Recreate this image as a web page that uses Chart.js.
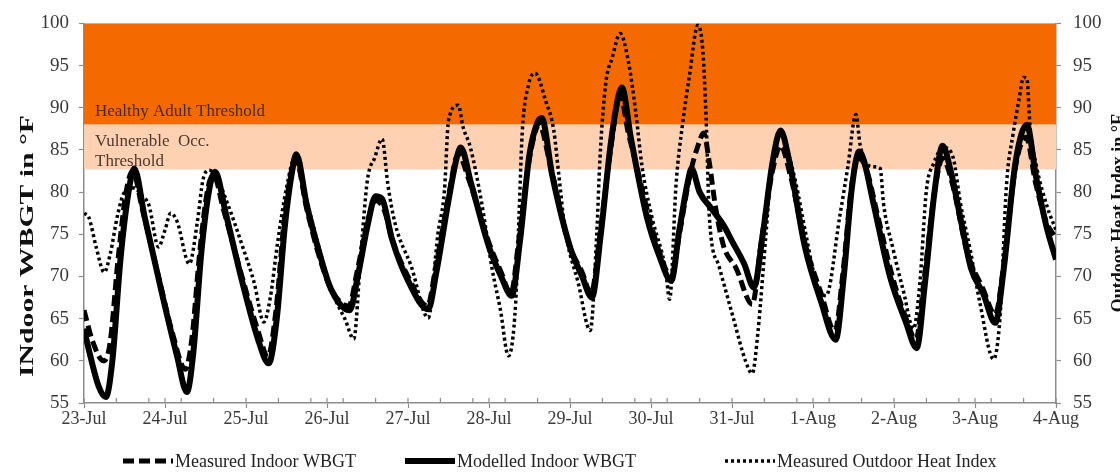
<!DOCTYPE html>
<html>
<head>
<meta charset="utf-8">
<title>Indoor WBGT and Outdoor Heat Index</title>
<script src="https://cdn.jsdelivr.net/npm/chart.js@4.4.1/dist/chart.umd.min.js"></script>
<style>
  html, body { margin: 0; padding: 0; background: #fff; }
  #wrap { width: 1120px; height: 472px; }
</style>
</head>
<body>
<div id="wrap"><canvas id="chart" width="1120" height="472"></canvas></div>
<script>
// x axis: days since 23-Jul, one label per day
const dayLabels = ["23-Jul", "24-Jul", "25-Jul", "26-Jul", "27-Jul", "28-Jul", "29-Jul",
  "30-Jul", "31-Jul", "1-Aug", "2-Aug", "3-Aug", "4-Aug"]

// Measured indoor WBGT (dashed)
const measuredDays = [0, 0.1, 0.24, 0.32, 0.42, 0.52, 0.6, 0.72, 0.92, 1.1, 1.25, 1.33, 1.43, 1.53, 1.6, 1.72, 1.95,
  2.15, 2.27, 2.37, 2.47, 2.56, 2.61, 2.75, 2.9, 3.05, 3.27, 3.37, 3.5, 3.6, 3.7, 3.82, 4.0, 4.24, 4.34, 4.5, 4.62, 4.75,
  5.0, 5.15, 5.27, 5.37, 5.5, 5.62, 5.75, 5.98, 6.15, 6.26, 6.37, 6.5, 6.62, 6.72, 6.8, 6.95, 7.1, 7.25, 7.35, 7.48,
  7.58, 7.65, 7.72, 7.8, 7.9, 8.05, 8.25, 8.36, 8.5, 8.6, 8.72, 8.9, 9.1, 9.27, 9.37, 9.48, 9.56, 9.65, 9.78, 9.98,
  10.15, 10.27, 10.37, 10.5, 10.6, 10.72, 10.9, 11.1, 11.25, 11.35, 11.5, 11.63, 11.75, 11.88, 12.0]
const measuredWbgt = [66.0, 62.5, 60.0, 62.0, 72.0, 80.0, 82.5, 78.0, 70.0, 63.0, 59.0, 62.5, 73.0, 80.5, 82.0, 78.0, 70.0,
  63.5, 60.5, 66.0, 76.5, 82.5, 84.0, 78.0, 72.5, 68.5, 66.5, 70.5, 76.5, 79.0, 78.0, 74.0, 70.0, 66.5, 71.0, 79.5, 84.5, 81.5,
  74.0, 70.5, 68.0, 74.5, 84.0, 88.0, 83.5, 74.0, 70.5, 68.0, 75.0, 85.0, 91.5, 87.0, 84.0, 78.0, 73.0, 70.0, 75.0, 82.0,
  85.5, 87.0, 83.5, 78.0, 73.5, 71.0, 66.7, 74.0, 82.5, 85.5, 82.0, 74.0, 68.0, 63.5, 70.5, 81.0, 84.0, 83.0, 78.0, 70.0,
  65.0, 62.5, 69.5, 80.0, 84.0, 81.0, 73.0, 68.5, 65.5, 71.0, 83.0, 86.5, 81.0, 76.5, 74.5]

// Modelled indoor WBGT (solid)
const modelledDays = [0, 0.08, 0.18, 0.27, 0.35, 0.45, 0.55, 0.62, 0.75, 0.95, 1.15, 1.27, 1.35, 1.45, 1.55, 1.62, 1.75, 1.95,
  2.15, 2.28, 2.38, 2.48, 2.57, 2.62, 2.75, 2.9, 3.05, 3.28, 3.38, 3.5, 3.6, 3.68, 3.8, 4.0, 4.25, 4.35, 4.5, 4.6, 4.65, 4.78,
  5.0, 5.15, 5.28, 5.38, 5.5, 5.6, 5.65, 5.78, 6.0, 6.15, 6.27, 6.38, 6.5, 6.6, 6.64, 6.75, 6.95, 7.1, 7.25, 7.35, 7.45, 7.5,
  7.6, 7.75, 7.9, 8.0, 8.15, 8.27, 8.38, 8.5, 8.6, 8.7, 8.9, 9.1, 9.28, 9.38, 9.48, 9.57, 9.62, 9.75, 9.95, 10.15, 10.28,
  10.38, 10.5, 10.6, 10.7, 10.85, 10.95, 11.1, 11.25, 11.35, 11.5, 11.64, 11.75, 11.88, 12.0]
const modelledWbgt = [63.8, 60.5, 57.0, 55.7, 60.0, 72.0, 80.0, 82.8, 77.0, 68.5, 60.5, 56.3, 61.0, 73.0, 80.5, 82.4, 77.5, 69.5,
  62.5, 59.7, 65.0, 76.0, 82.5, 84.5, 78.5, 73.0, 68.5, 66.0, 70.0, 76.0, 79.5, 79.2, 74.5, 69.5, 66.1, 70.5, 79.0, 84.0, 85.3, 81.0,
  73.5, 70.0, 67.7, 74.0, 84.5, 88.3, 88.8, 82.0, 73.5, 70.0, 67.5, 75.0, 85.5, 91.5, 92.4, 86.5, 77.0, 72.5, 69.5, 75.5, 81.0, 82.8,
  80.0, 78.0, 76.0, 74.2, 71.5, 68.7, 75.0, 83.5, 87.3, 84.0, 73.5, 67.0, 62.5, 70.0, 80.5, 84.8, 84.0, 78.5, 70.0, 64.5, 61.5,
  69.0, 80.0, 85.5, 82.5, 75.5, 71.0, 68.0, 64.5, 70.5, 83.5, 88.0, 82.0, 76.0, 72.0]

// Measured outdoor heat index (dotted, right axis)
const outdoorDays = [0, 0.06, 0.15, 0.25, 0.32, 0.42, 0.5, 0.62, 0.72, 0.8, 0.92, 1.0, 1.07, 1.15, 1.3, 1.4, 1.47, 1.55, 1.65,
  1.77, 1.97, 2.1, 2.22, 2.3, 2.39, 2.5, 2.6, 2.72, 2.9, 3.05, 3.14, 3.22, 3.33, 3.42, 3.5, 3.59, 3.68, 3.75, 3.84, 4.04, 4.25,
  4.37, 4.45, 4.5, 4.62, 4.68, 4.77, 4.91, 5.04, 5.14, 5.24, 5.33, 5.37, 5.41, 5.49, 5.57, 5.7, 5.8, 5.86, 5.94, 6.1, 6.25,
  6.33, 6.37, 6.44, 6.52, 6.62, 6.72, 6.81, 6.89, 7.01, 7.18, 7.23, 7.31, 7.39, 7.47, 7.58, 7.64, 7.68, 7.72, 7.84, 8.01, 8.17,
  8.25, 8.32, 8.42, 8.5, 8.6, 8.68, 8.79, 8.91, 9.04, 9.16, 9.33, 9.43, 9.53, 9.58, 9.66, 9.75, 9.83, 9.87, 9.99, 10.12, 10.24,
  10.32, 10.4, 10.49, 10.61, 10.73, 10.82, 10.94, 11.06, 11.23, 11.31, 11.39, 11.47, 11.54, 11.6, 11.64, 11.68, 11.76, 11.89, 12.0]
const outdoorHeatIndex = [77.5, 77.0, 73.5, 70.5, 72.5, 77.5, 80.0, 80.5, 79.5, 78.5, 73.5, 75.5, 77.5, 76.5, 71.5, 76.5, 81.5, 82.6, 81.5,
  78.7, 73.2, 69.3, 64.6, 67.5, 74.0, 80.5, 84.0, 80.0, 73.5, 68.5, 66.5, 65.0, 62.6, 73.0, 81.5, 84.1, 86.3, 81.0, 76.3, 71.2, 65.1,
  75.1, 80.2, 88.5, 90.3, 87.7, 85.3, 78.7, 70.8, 66.1, 60.6, 67.0, 77.0, 87.0, 92.8, 94.1, 90.8, 87.3, 82.2, 75.5, 69.3, 63.6,
  75.0, 84.0, 92.8, 95.9, 98.8, 95.5, 89.6, 83.0, 77.1, 70.8, 67.3, 81.0, 88.1, 93.5, 99.8, 96.7, 88.8, 77.1, 71.2, 65.3, 59.9,
  58.5, 63.4, 75.1, 84.1, 86.8, 85.0, 81.0, 75.1, 69.3, 67.7, 77.1, 83.0, 89.2, 85.7, 83.4, 83.0, 82.8, 78.7, 73.2, 68.1, 63.8,
  69.3, 80.2, 83.4, 85.3, 84.1, 78.7, 73.2, 66.9, 60.2, 65.3, 81.0, 86.9, 90.8, 93.6, 93.5, 87.7, 83.0, 78.3, 75.5]

// Threshold bands (deg F)
const bandNames = ["Healthy Adult Threshold", "Vulnerable  Occ.|Threshold"]
const bandFrom = [88, 82.7]
const bandTo = [100, 88]

const serif = '"Liberation Serif", "Times New Roman", serif'
const axisGrey = "#8c8c8c"

const toPoints = (xs, ys) => xs.map((x, i) => ({ x: x, y: ys[i] }))

// Orange bands behind the lines, with their labels
const bandsPlugin = {
  id: "bands",
  beforeDatasetsDraw(chart) {
    const { ctx, chartArea, scales } = chart
    const colours = ["#f56a00", "#fdd1b1"]
    const textColours = ["#4e2810", "#4a3a30"]
    ctx.save()
    bandNames.forEach((name, i) => {
      const top = scales.y.getPixelForValue(bandTo[i])
      const bottom = scales.y.getPixelForValue(bandFrom[i])
      ctx.fillStyle = colours[i]
      ctx.fillRect(chartArea.left, top, chartArea.right - chartArea.left, bottom - top)
      ctx.fillStyle = textColours[i]
      ctx.font = "17px " + serif
      ctx.textBaseline = "middle"
      const lines = name.split("|")
      lines.forEach((line, j) => {
        const y = i === 0 ? bottom - 13 : top + 17 + j * 20
        ctx.fillText(line, chartArea.left + 11, y)
      })
    })
    ctx.restore()
  }
}

// short tick marks pointing into the plot along the x axis
const minorTicksPlugin = {
  id: "minorTicks",
  afterDraw(chart) {
    const { ctx, chartArea, scales } = chart
    ctx.save()
    ctx.strokeStyle = axisGrey
    ctx.lineWidth = 1.2
    ctx.beginPath()
    for (let k = 0; k <= 30; k++) {
      const x = scales.x.getPixelForValue(k * 0.4)
      ctx.moveTo(x, chartArea.bottom - 5)
      ctx.lineTo(x, chartArea.bottom)
    }
    for (let d = 0; d <= 12; d++) {
      const x = scales.x.getPixelForValue(d)
      ctx.moveTo(x, chartArea.bottom - 5)
      ctx.lineTo(x, chartArea.bottom)
    }
    ctx.stroke()
    ctx.restore()
  }
}

// Axis titles, both read bottom to top like the original
const titlesPlugin = {
  id: "axisTitles",
  afterDraw(chart) {
    const ctx = chart.ctx
    ctx.save()
    ctx.fillStyle = "#111"
    ctx.font = "bold 18px " + serif
    ctx.textAlign = "center"
    ctx.textBaseline = "middle"

    const left = "INdoor WBGT in \u00B0F"
    ctx.save()
    ctx.translate(28, 246)
    ctx.rotate(-Math.PI / 2)
    ctx.scale(262 / ctx.measureText(left).width, 1)
    ctx.fillText(left, 0, 0)
    ctx.restore()

    ctx.save()
    ctx.translate(1119, chart.chartArea.top + (chart.chartArea.bottom - chart.chartArea.top) / 2)
    ctx.rotate(-Math.PI / 2)
    ctx.fillText("Outdoor Heat Index in \u00B0F", 0, 0)
    ctx.restore()
    ctx.restore()
  }
}

// Legend row under the axis
const legendPlugin = {
  id: "bottomLegend",
  afterDraw(chart) {
    const ctx = chart.ctx
    const starts = [123, 405, 725]
    const y = 461
    ctx.save()
    ctx.font = "18px " + serif
    ctx.textBaseline = "middle"
    chart.data.datasets.forEach((ds, i) => {
      const x = starts[i]
      ctx.strokeStyle = ds.borderColor
      ctx.lineWidth = ds.borderWidth
      ctx.setLineDash(ds.borderDash || [])
      ctx.beginPath()
      ctx.moveTo(x, y)
      ctx.lineTo(x + 50, y)
      ctx.stroke()
      ctx.fillStyle = "#222"
      ctx.fillText(ds.label, x + 52, y + 1)
    })
    ctx.restore()
  }
}

const yAxis = (position, width, pad) => ({
  position: position,
  min: 55,
  max: 100,
  ticks: { stepSize: 5, color: "#3a3a3a", font: { family: serif, size: 19 }, padding: pad },
  grid: { drawOnChartArea: false, color: axisGrey, tickLength: 5, tickWidth: 1.2 },
  border: { color: axisGrey, width: 1.5 },
  afterFit: (scale) => { scale.width = width }
})

new Chart(document.getElementById("chart"), {
  type: "line",
  plugins: [bandsPlugin, minorTicksPlugin, titlesPlugin, legendPlugin],
  data: {
    datasets: [
      {
        label: "Measured Indoor WBGT",
        data: toPoints(measuredDays, measuredWbgt),
        borderColor: "#000",
        borderWidth: 5,
        borderDash: [11, 5],
        yAxisID: "y"
      },
      {
        label: "Modelled Indoor WBGT",
        data: toPoints(modelledDays, modelledWbgt),
        borderColor: "#000",
        borderWidth: 6,
        yAxisID: "y"
      },
      {
        label: "Measured Outdoor Heat Index",
        data: toPoints(outdoorDays, outdoorHeatIndex),
        borderColor: "#000",
        borderWidth: 3.5,
        borderDash: [3, 3],
        yAxisID: "y2"
      }
    ]
  },
  options: {
    responsive: false,
    devicePixelRatio: 1,
    animation: false,
    layout: { padding: { top: 20, left: 0, right: 0, bottom: 0 } },
    elements: {
      point: { radius: 0 },
      line: { cubicInterpolationMode: "monotone", borderJoinStyle: "round", fill: false }
    },
    plugins: { legend: { display: false }, tooltip: { enabled: false } },
    scales: {
      x: {
        type: "linear",
        min: 0,
        max: 12,
        ticks: {
          stepSize: 1,
          autoSkip: false,
          maxRotation: 0,
          padding: 0,
          color: "#3a3a3a",
          font: { family: serif, size: 18 },
          callback: (v) => dayLabels[v]
        },
        grid: { drawOnChartArea: false, color: axisGrey, tickLength: 5, tickWidth: 1.2 },
        border: { color: axisGrey, width: 1.5 },
        afterFit: (scale) => { scale.height = 69 }
      },
      y: yAxis("left", 84, 10),
      y2: yAxis("right", 64, 12)
    }
  }
})
</script>
</body>
</html>
